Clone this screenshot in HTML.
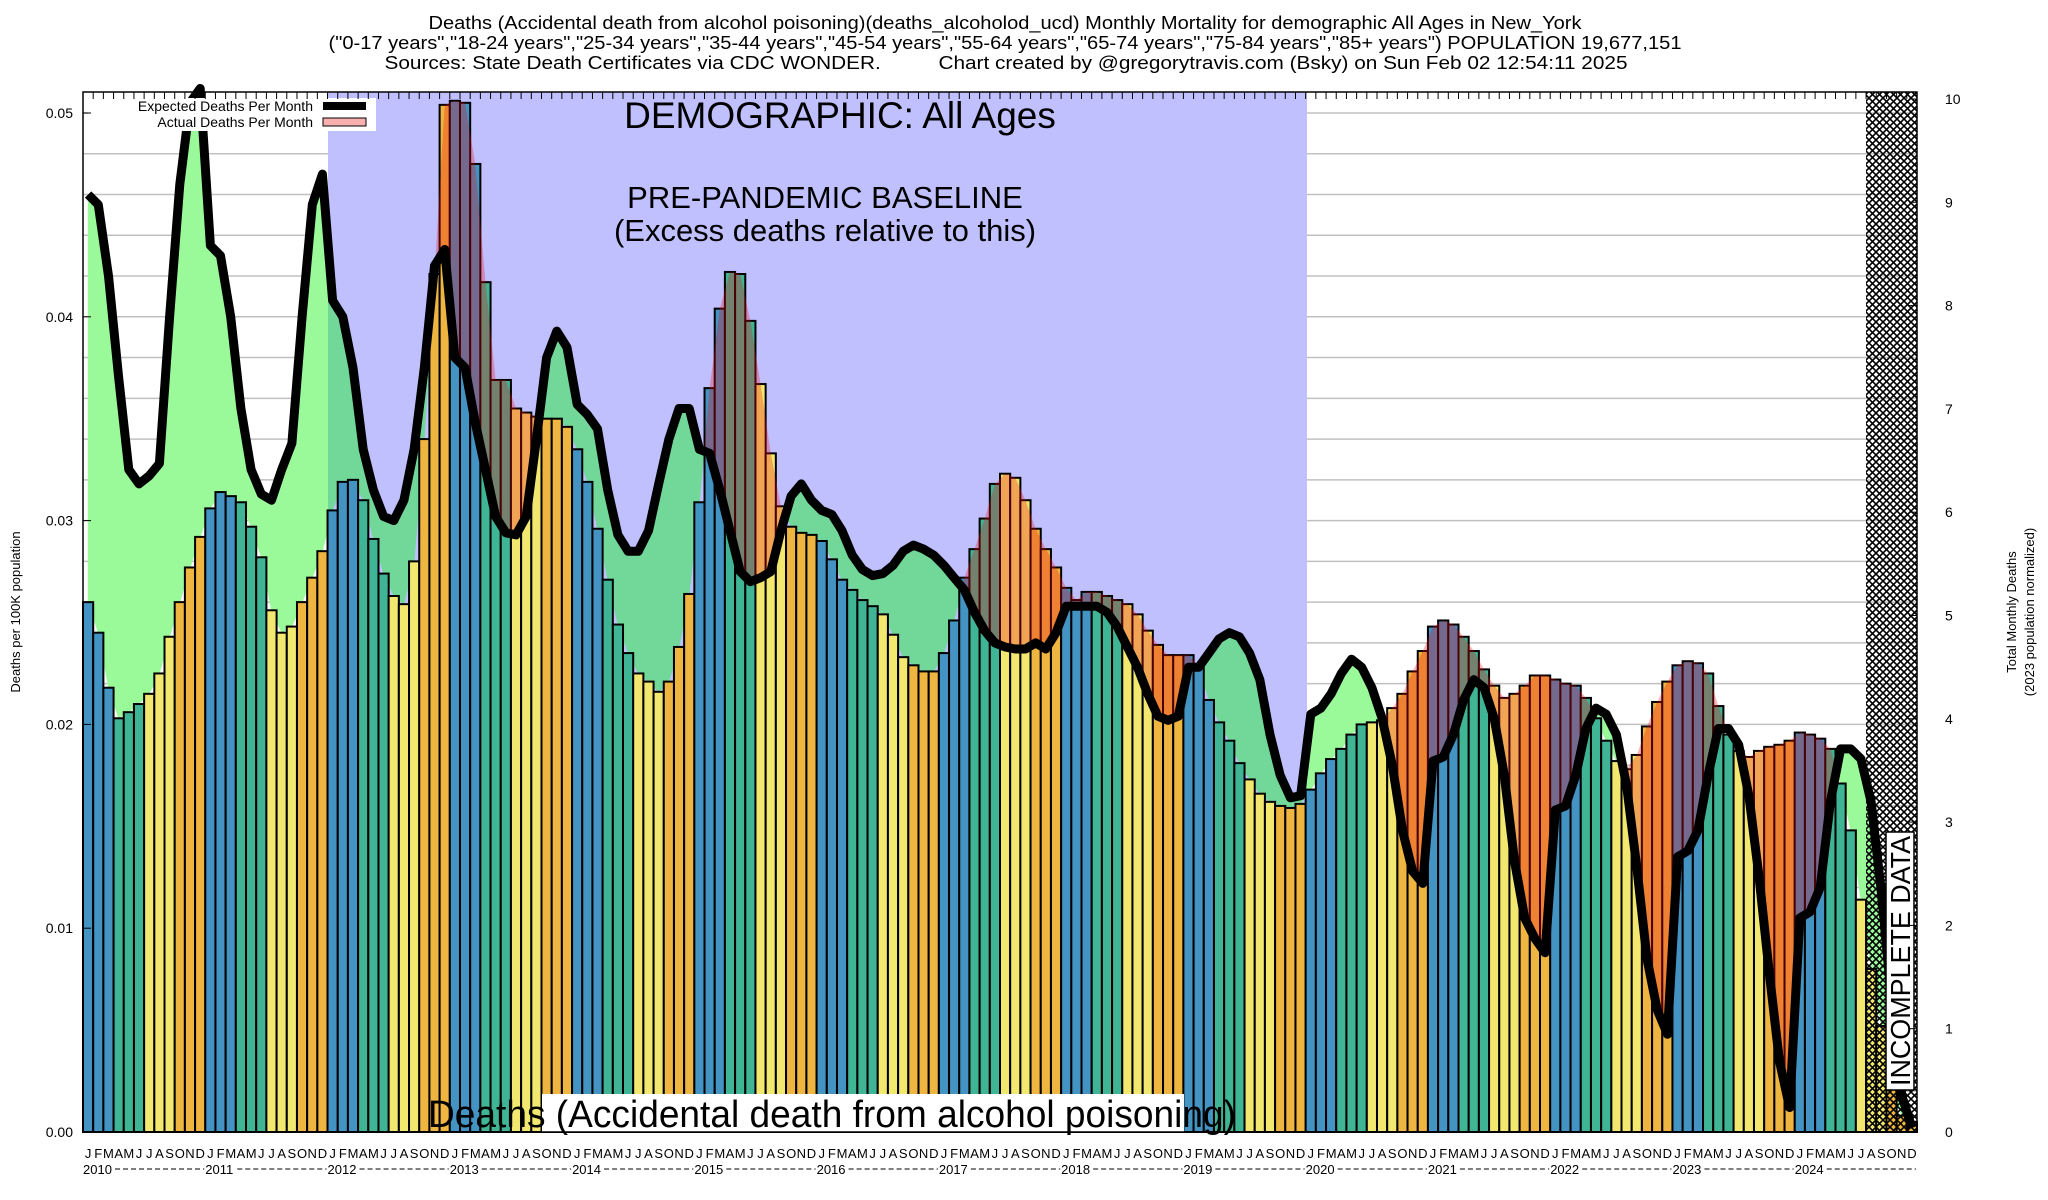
<!DOCTYPE html>
<html><head><meta charset="utf-8"><style>
html,body{margin:0;padding:0;background:#fff;}
svg{display:block;font-family:"Liberation Sans",Arial,sans-serif;}
</style></head><body>
<svg id="chart" width="2048" height="1200" viewBox="0 0 2048 1200" xmlns="http://www.w3.org/2000/svg">
<defs>
<pattern id="hatch" width="7" height="7" patternUnits="userSpaceOnUse">
<path d="M0,0L7,7M7,0L0,7" stroke="#000" stroke-width="1.6"/>
</pattern>
<clipPath id="clipIn"><rect x="328" y="92" width="979" height="1040"/></clipPath>
<clipPath id="clipOut"><rect x="0" y="0" width="328" height="1200"/><rect x="1307" y="0" width="800" height="1200"/></clipPath>
</defs>
<g font-size="18" text-anchor="middle" fill="#000">
<text x="1005" y="29" textLength="1153" lengthAdjust="spacingAndGlyphs">Deaths (Accidental death from alcohol poisoning)(deaths_alcoholod_ucd) Monthly Mortality for demographic All Ages in New_York</text>
<text x="1005" y="49" textLength="1353" lengthAdjust="spacingAndGlyphs">("0-17 years","18-24 years","25-34 years","35-44 years","45-54 years","55-64 years","65-74 years","75-84 years","85+ years") POPULATION 19,677,151</text>
<text x="1006" y="69" textLength="1243" lengthAdjust="spacingAndGlyphs" xml:space="preserve">Sources: State Death Certificates via CDC WONDER.          Chart created by @gregorytravis.com (Bsky) on Sun Feb 02 12:54:11 2025</text>
</g>
<g id="grid"></g>
<rect x="328" y="92" width="979" height="1040" fill="#c0c0ff"/>
<g id="fills"></g>
<g id="bars"></g>
<g id="pinkfill"></g>
<path id="expline" fill="none" stroke="#000" stroke-width="9" stroke-linejoin="round"/>
<rect x="1866" y="92" width="51" height="1040" fill="url(#hatch)"/>
<g>
<rect x="1886" y="832" width="28" height="258" fill="#fff" stroke="#000" stroke-width="1.5"/>
<text transform="translate(1910,1086) rotate(-90)" font-size="28" textLength="250" lengthAdjust="spacingAndGlyphs" fill="#000">INCOMPLETE DATA</text>
</g>
<g text-anchor="middle" fill="#000">
<text x="840" y="128" font-size="37">DEMOGRAPHIC: All Ages</text>
<text x="825" y="208" font-size="31">PRE-PANDEMIC BASELINE</text>
<text x="825" y="241" font-size="31">(Excess deaths relative to this)</text>
</g>
<rect x="542" y="1094" width="642" height="38" fill="#fff"/>
<text x="428" y="1127" font-size="38" textLength="808" lengthAdjust="spacingAndGlyphs" fill="#000">Deaths (Accidental death from alcohol poisoning)</text>
<g>
<rect x="88" y="98" width="288" height="33" fill="#fff"/>
<text x="313" y="111" font-size="14" text-anchor="end">Expected Deaths Per Month</text>
<rect x="323" y="102" width="43" height="8" fill="#000"/>
<text x="313" y="127" font-size="14" text-anchor="end">Actual Deaths Per Month</text>
<rect x="323" y="118" width="43" height="8" fill="#fbb0b0" stroke="#000" stroke-width="1"/>
</g>
<rect x="83" y="92" width="1834" height="1040" fill="none" stroke="#000" stroke-width="1.5"/>
<g id="axes"></g>
<text transform="translate(20,612) rotate(-90)" font-size="13" text-anchor="middle">Deaths per 100K population</text>
<g font-size="13" text-anchor="middle">
<text transform="translate(2016,612) rotate(-90)">Total Monthly Deaths</text>
<text transform="translate(2034,612) rotate(-90)">(2023 population normalized)</text>
</g>
</svg>
<script>
const years = ["2010","2011","2012","2013","2014","2015","2016","2017","2018","2019","2020","2021","2022","2023","2024"];
const monthLetters = ["J","F","M","A","M","J","J","A","S","O","N","D"];
const actual = [
0.026,0.0245,0.0218,0.0203,0.0206,0.021,0.0215,0.0225,0.0243,0.026,0.0277,0.0292,
0.0306,0.0314,0.0312,0.0309,0.0297,0.0282,0.0256,0.0245,0.0248,0.026,0.0272,0.0285,
0.0305,0.0319,0.032,0.031,0.0291,0.0274,0.0263,0.0259,0.028,0.034,0.0421,0.0504,
0.0506,0.0505,0.0475,0.0417,0.0369,0.0369,0.0355,0.0353,0.0351,0.035,0.035,0.0346,
0.0335,0.0319,0.0296,0.0271,0.0249,0.0235,0.0225,0.0221,0.0216,0.0221,0.0238,0.0264,
0.0309,0.0365,0.0404,0.0422,0.0421,0.0398,0.0367,0.0333,0.0307,0.0297,0.0294,0.0293,
0.029,0.0281,0.0271,0.0266,0.0261,0.0258,0.0254,0.0244,0.0233,0.0229,0.0226,0.0226,
0.0235,0.0251,0.0272,0.0286,0.0301,0.0318,0.0323,0.0321,0.031,0.0296,0.0286,0.0277,
0.0267,0.0261,0.0265,0.0265,0.0263,0.0261,0.0259,0.0254,0.0246,0.0239,0.0234,0.0234,
0.0234,0.0229,0.0212,0.0201,0.0192,0.0181,0.0173,0.0166,0.0162,0.016,0.0159,0.0161,
0.0168,0.0176,0.0183,0.0188,0.0195,0.02,0.0201,0.0202,0.0208,0.0215,0.0226,0.0236,
0.0248,0.0251,0.0249,0.0243,0.0236,0.0227,0.0219,0.0213,0.0215,0.0219,0.0224,0.0224,
0.0222,0.022,0.0219,0.0213,0.0203,0.0192,0.0182,0.0178,0.0185,0.0199,0.0211,0.0221,
0.0229,0.0231,0.023,0.0225,0.0209,0.0195,0.0187,0.0184,0.0187,0.0189,0.019,0.0192,
0.0196,0.0195,0.0193,0.0188,0.0171,0.0148,0.0114,0.008,0.0052,0.0024,0.0008,0.0005];
const expected = [
0.046,0.0455,0.042,0.037,0.0325,0.0318,0.0322,0.0328,0.040,0.0465,0.0505,0.0512,
0.0435,0.043,0.040,0.0355,0.0325,0.0313,0.031,0.0325,0.0338,0.040,0.0455,0.047,
0.0408,0.040,0.0375,0.0335,0.0315,0.0302,0.030,0.031,0.0335,0.0375,0.0425,0.0433,
0.038,0.0375,0.0348,0.0325,0.0302,0.0294,0.0293,0.0302,0.034,0.038,0.0393,0.0385,
0.0357,0.0352,0.0345,0.0315,0.0293,0.0285,0.0285,0.0295,0.0318,0.034,0.0355,0.0355,
0.0335,0.0333,0.0315,0.0295,0.0275,0.027,0.0272,0.0275,0.0295,0.0312,0.0318,0.031,
0.0305,0.0303,0.0295,0.0283,0.0276,0.0273,0.0274,0.0278,0.0285,0.0288,0.0286,0.0283,
0.0278,0.0272,0.0266,0.0255,0.0246,0.024,0.0238,0.0237,0.0237,0.024,0.0237,0.0245,
0.0258,0.0258,0.0258,0.0258,0.0255,0.0248,0.0238,0.0228,0.0215,0.0204,0.0202,0.0204,
0.0228,0.0228,0.0235,0.0242,0.0245,0.0243,0.0235,0.0222,0.0195,0.0175,0.0164,0.0165,
0.0205,0.0208,0.0215,0.0225,0.0232,0.0228,0.0218,0.0203,0.018,0.0148,0.0128,0.0122,
0.0182,0.0184,0.0195,0.0212,0.0222,0.0218,0.0203,0.0175,0.0133,0.0105,0.0095,0.0088,
0.0158,0.016,0.0175,0.0198,0.0208,0.0205,0.0195,0.017,0.013,0.0085,0.006,0.0048,
0.0135,0.0138,0.0148,0.0175,0.0198,0.0198,0.019,0.0165,0.0125,0.0078,0.0035,0.0012,
0.0105,0.0108,0.012,0.0162,0.0188,0.0188,0.0183,0.0162,0.0118,0.0065,0.0018,0.0002];
const leftTicks = [0,0.01,0.02,0.03,0.04,0.05];
const leftTickLabels = ["0.00","0.01","0.02","0.03","0.04","0.05"];
const rightTicks = [0,1,2,3,4,5,6,7,8,9,10];

const NS="http://www.w3.org/2000/svg";
const L=83,R=1917,B=1132,T=92;
const N=actual.length;
const bw=(R-L)/180;
const xl=i=>L+i*bw;
const xc=i=>L+(i+0.5)*bw;
const y=v=>B-v*20380;
const y2=v=>B-v*103.3;
function mk(tag,attrs,parent){const e=document.createElementNS(NS,tag);for(const k in attrs)e.setAttribute(k,attrs[k]);parent.appendChild(e);return e;}

const grid=document.getElementById('grid');
for(let k=1;k<=25;k++){
  const gl=mk('line',{x1:L,x2:R,y1:y(k*0.002),y2:y(k*0.002),stroke:'#c0c0c0','stroke-width':1.5},grid);
  
  
}
const fills=document.getElementById('fills');
const pinkG=document.getElementById('pinkfill');
let greenPolys=[],pinkPolys=[];
for(let i=0;i<N-1;i++){
  const a0=actual[i],a1=actual[i+1],e0=expected[i],e1=expected[i+1];
  const d0=e0-a0,d1=e1-a1;
  const x0=xc(i),x1=xc(i+1);
  if(d0*d1>=0){
    const q=`${x0},${y(a0)} ${x1},${y(a1)} ${x1},${y(e1)} ${x0},${y(e0)}`;
    ((d0+d1)>=0?greenPolys:pinkPolys).push(q);
  }else{
    const t=d0/(d0-d1);const xm=x0+t*(x1-x0);const vm=a0+t*(a1-a0);
    const q1=`${x0},${y(a0)} ${xm},${y(vm)} ${x0},${y(e0)}`;
    const q2=`${xm},${y(vm)} ${x1},${y(a1)} ${x1},${y(e1)}`;
    (d0>0?greenPolys:pinkPolys).push(q1);
    (d1>0?greenPolys:pinkPolys).push(q2);
  }
}
[['clipOut','#9afa9a'],['clipIn','#72d89a']].forEach(([c,col])=>{
  const g=mk('g',{'clip-path':`url(#${c})`},fills);
  
  
  greenPolys.forEach(p=>mk('polygon',{points:p,fill:col,stroke:col,'stroke-width':0.6},g));
});
const bars=document.getElementById('bars');
const colors=['#4393c3','#4393c3','#4393c3','#40b595','#40b595','#40b595','#f2e870','#f2e870','#f2e870','#eeb540','#eeb540','#eeb540'];
for(let i=0;i<N;i++){
  const r=mk('rect',{x:xl(i),y:y(actual[i]),width:bw,height:B-y(actual[i]),fill:colors[i%12],stroke:'#000','stroke-width':2},bars);
  
  
}
pinkPolys.forEach(p=>{
  const pg=mk('polygon',{points:p,fill:'rgba(238,10,20,0.3)'},pinkG);
  
  
});
document.getElementById('expline').setAttribute('d',expected.map((v,i)=>(i?'L':'M')+xc(i).toFixed(1)+','+y(v).toFixed(1)).join(''));
const ax=document.getElementById('axes');
leftTicks.forEach((v,k)=>{
  mk('line',{x1:L,x2:L+8,y1:y(v),y2:y(v),stroke:'#000','stroke-width':1},ax);
  const t=mk('text',{x:73,y:y(v)+5,'font-size':14,'text-anchor':'end'},ax);
  t.textContent=leftTickLabels[k];
  
  
});
rightTicks.forEach(v=>{
  mk('line',{x1:R-8,x2:R,y1:y2(v),y2:y2(v),stroke:'#000','stroke-width':1},ax);
  const t=mk('text',{x:1945,y:y2(v)+5,'font-size':14},ax);
  t.textContent=String(v);
  
  
});
for(let i=0;i<N;i++){
  mk('line',{x1:xl(i),x2:xl(i),y1:T,y2:T+7,stroke:'#000','stroke-width':1},ax);
  const t=mk('text',{x:xc(i),y:1158,'font-size':13,'text-anchor':'middle'},ax);
  t.textContent=monthLetters[i%12];
  
  
}
years.forEach((yr,k)=>{
  const x0=xl(k*12);
  const t=mk('text',{x:x0,y:1174,'font-size':13},ax);
  t.textContent=yr;
  
  
  mk('line',{x1:x0+32,x2:xl(k*12+12)-1,y1:1169,y2:1169,stroke:'#000','stroke-width':1,'stroke-dasharray':'5,3'},ax);
});
</script>
</body></html>
